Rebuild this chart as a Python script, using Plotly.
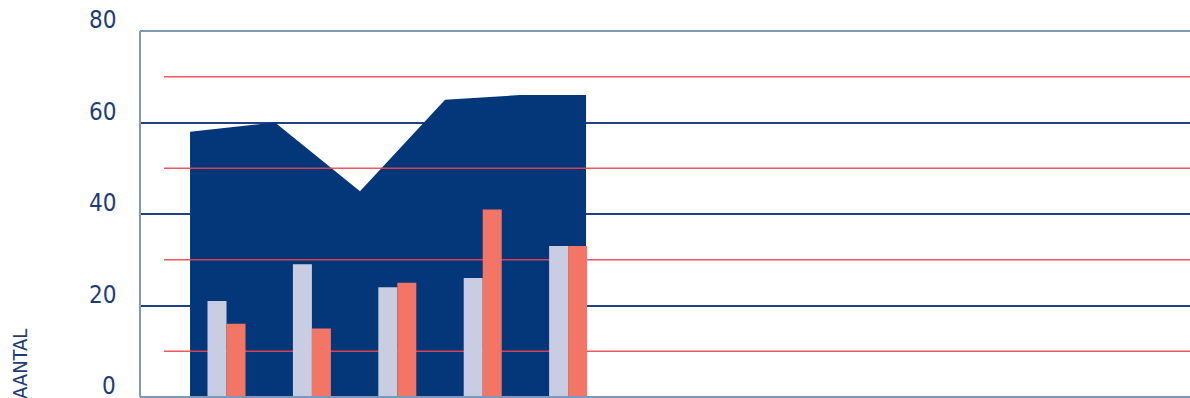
import plotly.graph_objects as go

# ---- data ----
bar_x = [0, 1, 2, 3, 4]
series_a = [21, 29, 24, 26, 33]      # lavender bars
series_b = [16, 15, 25, 41, 33]      # salmon bars
area_x = [-0.427, 0.568, 1.563, 2.559, 3.437, 4.21]
area_y = [58, 60, 45, 65, 66, 66]
red_levels = [10, 30, 50, 70]
red_x = [-0.732, 11.4]
y_ticks = [0, 20, 40, 60, 80]
y_title = "AANTAL"

NAVY = "#04367a"
TXT = "#1d3c78"
BORDER = "#7d98bd"
FONT = "DejaVu Sans Condensed, Roboto, sans-serif"

fig = go.Figure()

fig.add_trace(go.Scatter(
    x=area_x, y=area_y, mode="lines", fill="tozeroy",
    line=dict(color=NAVY, width=0), fillcolor=NAVY,
    hoverinfo="skip", showlegend=False, zorder=0,
))

for lv in red_levels:
    fig.add_trace(go.Scatter(
        x=red_x, y=[lv, lv], mode="lines",
        line=dict(color="rgba(236,70,78,0.9)", width=1.5),
        hoverinfo="skip", showlegend=False, zorder=1,
    ))

fig.add_trace(go.Bar(x=bar_x, y=series_a, marker=dict(color="#c8cde1", line=dict(width=0)),
                     showlegend=False, zorder=2))
fig.add_trace(go.Bar(x=bar_x, y=series_b, marker=dict(color="#f27566", line=dict(width=0)),
                     showlegend=False, zorder=2))

fig.update_layout(
    width=1190, height=398,
    margin=dict(l=140, r=0, t=31, b=1),
    paper_bgcolor="white", plot_bgcolor="white",
    barmode="group", bargap=0.555, bargroupgap=0,
    font=dict(family=FONT, color=TXT),
)

fig.update_xaxes(
    range=[-1.013, 11.282], showgrid=False, zeroline=False,
    showticklabels=False, ticks="", showline=False,
)
fig.update_yaxes(
    range=[0, 80], tickvals=y_ticks, showticklabels=False,
    showgrid=True, gridcolor="#1f4283", gridwidth=1.5, zeroline=False,
    showline=False, ticks="",
)

# frame lines (top, left, bottom)
fig.add_shape(type="line", xref="paper", yref="paper", x0=0, x1=1, y0=1, y1=1,
              line=dict(color=BORDER, width=2), layer="above")
fig.add_shape(type="line", xref="paper", yref="paper", x0=0, x1=0, y0=0, y1=1,
              line=dict(color=BORDER, width=2), layer="above")
fig.add_shape(type="line", xref="paper", yref="paper", x0=0, x1=1, y0=0, y1=0,
              line=dict(color=BORDER, width=2), layer="above")

# y tick labels sitting on top of their gridlines
for v in y_ticks:
    fig.add_annotation(
        text=str(v), xref="paper", yref="y", x=0, y=v,
        xshift=-22, yshift=-5, xanchor="right", yanchor="bottom",
        showarrow=False, font=dict(size=24, color=TXT, family=FONT),
    )

fig.add_annotation(
    text=y_title, xref="paper", yref="paper", x=0, y=0,
    xshift=-120, yshift=-4, xanchor="center", yanchor="bottom",
    textangle=-90, showarrow=False,
    font=dict(size=20, color=TXT, family=FONT),
)

fig.write_html("out.html")
